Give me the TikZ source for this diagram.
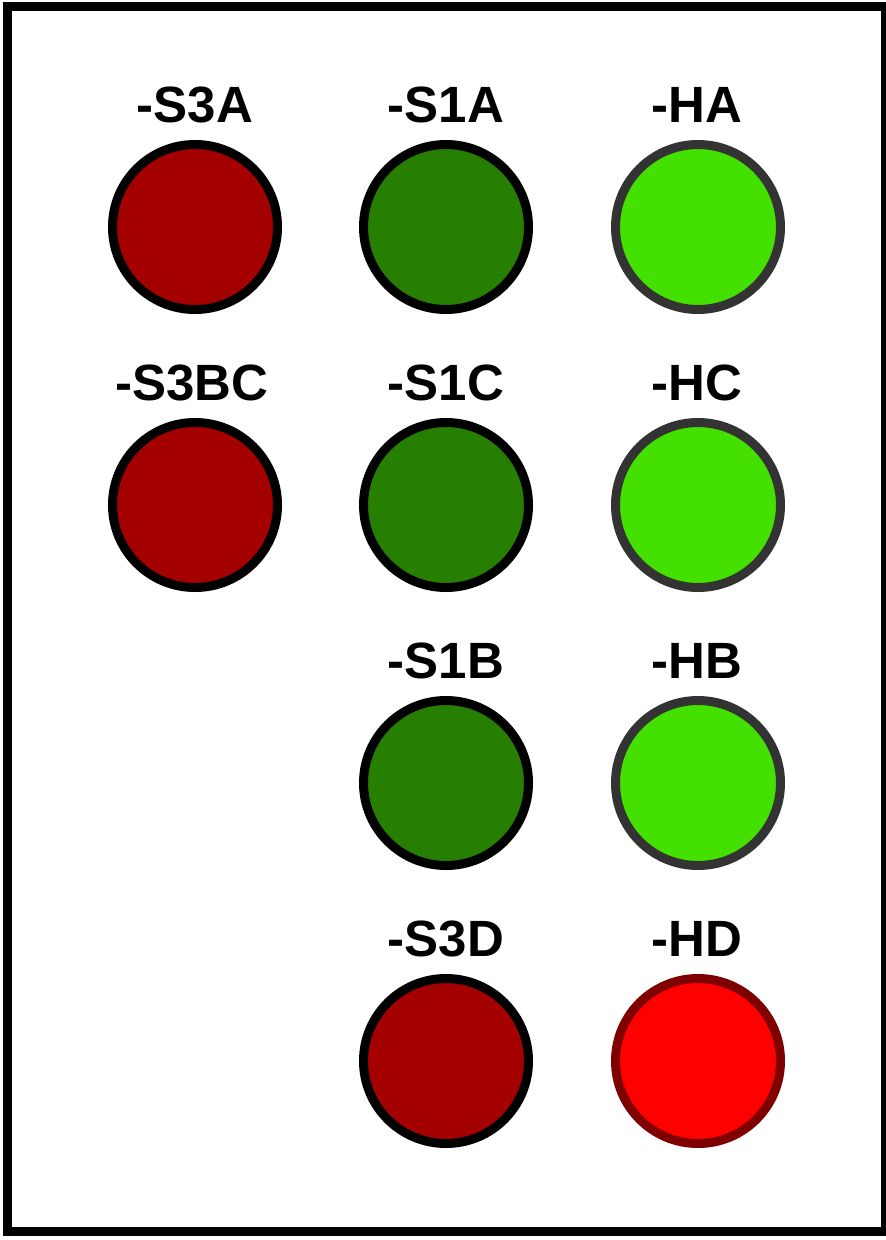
\documentclass[tikz,border=0pt]{standalone}
\usepackage{fontspec}
\setmainfont{Liberation Sans}
\definecolor{darkred}{HTML}{A50000}
\definecolor{darkgreen}{HTML}{267F00}
\definecolor{lightgreen}{HTML}{44E000}
\definecolor{brightred}{HTML}{FF0000}
\definecolor{redrim}{HTML}{7F0000}
\definecolor{greyrim}{HTML}{333333}
\begin{document}
\begin{tikzpicture}[x=1pt,y=-1pt,
  lamp/.style={circle,minimum size=165pt,inner sep=0pt,line width=9pt},
  switchred/.style={lamp,draw=black,fill=darkred},
  switchgreen/.style={lamp,draw=black,fill=darkgreen},
  indgreen/.style={lamp,draw=greyrim,fill=lightgreen},
  indred/.style={lamp,draw=redrim,fill=brightred},
  lbl/.style={font=\bfseries\fontsize{51}{51}\selectfont,inner sep=0pt,anchor=base}]
\useasboundingbox (0,0) rectangle (886,1240);
\fill[white] (0,0) rectangle (886,1240);
\draw[line width=9pt] (7.5,6.5) rectangle (885,1231.5);
% column 1
\node[lbl] (t11) at (195,122) {-S3A};
\node[switchred] (c11) at (195,227) {};
\node[lbl] (t21) at (192,400) {-S3BC};
\node[switchred] (c21) at (195,505) {};
% column 2
\node[lbl] (t12) at (446,122) {-S1A};
\node[switchgreen] (c12) at (446,227) {};
\node[lbl] (t22) at (446,400) {-S1C};
\node[switchgreen] (c22) at (446,505) {};
\node[lbl] (t32) at (446,678) {-S1B};
\node[switchgreen] (c32) at (446,783) {};
\node[lbl] (t42) at (446,956) {-S3D};
\node[switchred] (c42) at (446,1061) {};
% column 3
\node[lbl] (t13) at (697,122) {-HA};
\node[indgreen] (c13) at (698,227) {};
\node[lbl] (t23) at (697,400) {-HC};
\node[indgreen] (c23) at (698,505) {};
\node[lbl] (t33) at (697,678) {-HB};
\node[indgreen] (c33) at (698,783) {};
\node[lbl] (t43) at (697,956) {-HD};
\node[indred] (c43) at (698,1061) {};
\end{tikzpicture}
\end{document}
